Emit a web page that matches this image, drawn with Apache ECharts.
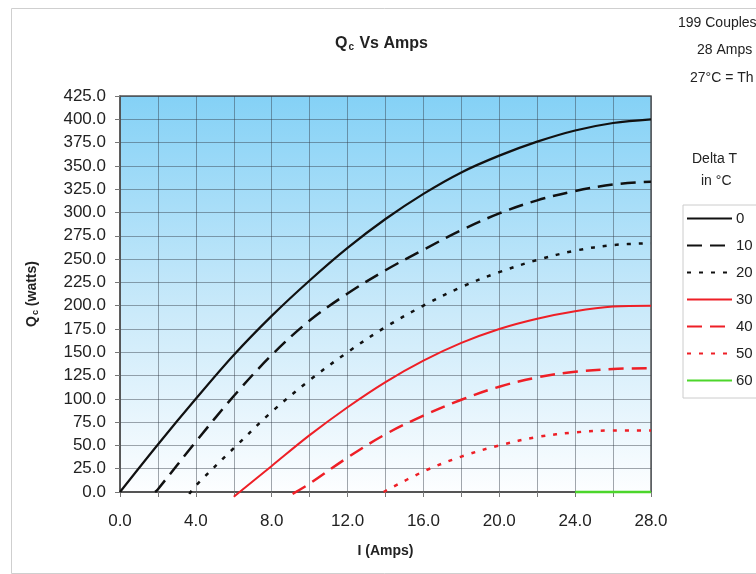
<!DOCTYPE html>
<html>
<head>
<meta charset="utf-8">
<script src="https://cdn.jsdelivr.net/npm/echarts@6/dist/echarts.min.js"></script>
<style>
html,body{margin:0;padding:0;background:#fff;}
#c{width:756px;height:574px;}
</style>
</head>
<body>
<div id="c"></div>
<script>
// ---- data ----
const deltaT = ['0', '10', '20', '30', '40', '50', '60'];
const amps = [0, 2, 4, 6, 8, 10, 12, 14, 16, 18, 20, 22, 24, 26, 28];
// where the curves that do not start at a grid amp cross zero
const startAmp = [null, 1.85, 3.65, 6.0, 9.1, 13.9, null];
const startQ   = [null, 0, -2, -5, -2, 0, null];
const qc0  = [0, 51, 100, 147, 189, 227, 262, 293, 320, 343, 361, 376, 388, 396, 400];
const qc10 = [null, 3, 54, 103, 147, 184, 213, 238, 260, 281, 299, 313, 323, 330, 333];
const qc20 = [null, null, 7, 47, 86, 120, 150, 177, 200, 220, 236, 249, 259, 265, 267];
const qc30 = [null, null, null, null, 28, 61, 91, 118, 141, 160, 175, 186, 194, 199, 200];
const qc40 = [null, null, null, null, null, 9, 37, 62, 82, 99, 113, 123, 129, 132, 133];
const qc50 = [null, null, null, null, null, null, null, null, 22, 38, 50, 59, 64, 66, 66];
const qc60 = [null, null, null, null, null, null, null, null, null, null, null, null, 0, 0, 0];
const yTicks = [0, 425, 25];
const xTicks = [0, 28, 4];

const allQ = [qc0, qc10, qc20, qc30, qc40, qc50, qc60];
const colors = ['#111111', '#111111', '#111111', '#ee1f26', '#ee1f26', '#ee1f26', '#4cd62b'];
const dashes = ['solid', [15, 8], [4, 8], 'solid', [15, 8], [4, 8], 'solid'];
const widths = [2.2, 2.5, 2.5, 2, 2.5, 2.5, 2.5];

function buildPts(i) {
  const pts = [];
  if (startAmp[i] !== null) pts.push([startAmp[i], startQ[i]]);
  amps.forEach((a, j) => {
    const v = allQ[i][j];
    if (v === null) return;
    if (startAmp[i] !== null && a <= startAmp[i]) return;
    pts.push([a, v]);
  });
  return pts;
}

const series = deltaT.map((name, i) => ({
  name: name,
  type: 'line',
  data: buildPts(i),
  symbol: 'none',
  smooth: 0.35,
  clip: false,
  lineStyle: { color: colors[i], width: widths[i], type: dashes[i] },
  itemStyle: { color: colors[i] },
  z: 3 + (6 - i)
}));

const FONT = 'Liberation Sans, Arial, sans-serif';
const chart = echarts.init(document.getElementById('c'), null, { renderer: 'canvas' });
chart.setOption({
  animation: false,
  backgroundColor: '#ffffff',
  grid: {
    left: 120, top: 96, width: 531, height: 396,
    show: true,
    borderColor: '#555555', borderWidth: 1.5,
    backgroundColor: {
      type: 'linear', x: 0, y: 0, x2: 0, y2: 1,
      colorStops: [
        { offset: 0, color: '#84d1f6' },
        { offset: 0.55, color: '#cbeafa' },
        { offset: 1, color: '#fdfeff' }
      ]
    }
  },
  xAxis: {
    type: 'value',
    min: xTicks[0], max: xTicks[1], interval: xTicks[2],
    name: 'I (Amps)',
    nameLocation: 'middle',
    nameGap: 52,
    nameTextStyle: { fontFamily: FONT, fontSize: 14, fontWeight: 'bold', color: '#222' },
    axisLine: { show: true, lineStyle: { color: '#555', width: 2 } },
    axisTick: { show: true, inside: false, length: 5, lineStyle: { color: '#777' } },
    minorTick: { show: true, splitNumber: 2, length: 5, lineStyle: { color: '#777' } },
    splitLine: { show: true, lineStyle: { color: 'rgba(50,60,70,0.45)', width: 1 } },
    minorSplitLine: { show: true, lineStyle: { color: 'rgba(50,60,70,0.45)', width: 1 } },
    axisLabel: {
      fontFamily: FONT, fontSize: 17, color: '#222', margin: 21,
      formatter: v => v.toFixed(1)
    }
  },
  yAxis: {
    type: 'value',
    min: yTicks[0], max: yTicks[1], interval: yTicks[2],
    name: '{q|Q}{s|c}{q| (watts)}',
    nameLocation: 'middle',
    nameGap: 80,
    nameTextStyle: {
      rich: {
        q: { fontFamily: FONT, fontSize: 14, fontWeight: 'bold', color: '#222' },
        s: { fontFamily: FONT, fontSize: 9, fontWeight: 'bold', color: '#222', verticalAlign: 'bottom', padding: [6, 0, 0, 1] }
      }
    },
    axisLine: { show: true, lineStyle: { color: '#555', width: 1.5 } },
    axisTick: { show: true, inside: false, length: 5, lineStyle: { color: '#777' } },
    splitLine: { show: true, lineStyle: { color: 'rgba(50,60,70,0.45)', width: 1 } },
    axisLabel: {
      fontFamily: FONT, fontSize: 17, color: '#222', margin: 14,
      formatter: v => v.toFixed(1)
    }
  },
  legend: {
    orient: 'vertical',
    left: 683, top: 205,
    padding: [6, 40, 10, 3],
    itemWidth: 45, itemHeight: 14, itemGap: 12,
    borderColor: '#cccccc', borderWidth: 1,
    itemStyle: { opacity: 0 },
    textStyle: { fontFamily: FONT, fontSize: 15, color: '#222', padding: [0, 0, 0, -1] },
    data: deltaT
  },
  graphic: [
    { type: 'rect', shape: { x: 11.5, y: 8.5, width: 800, height: 565 },
      style: { fill: 'none', stroke: '#cfcfcf', lineWidth: 1 }, silent: true, z: -10 },
    { type: 'text', left: 335, top: 36,
      style: {
        text: '{q|Q}{s|c}{q| Vs Amps}',
        rich: {
          q: { fontFamily: FONT, fontSize: 16, fontWeight: 'bold', fill: '#222' },
          s: { fontFamily: FONT, fontSize: 10, fontWeight: 'bold', fill: '#222', padding: [6, 1, 0, 1] }
        }
      } },
    { type: 'text', left: 678, top: 16, style: { text: '199 Couples', fontFamily: FONT, fontSize: 14, fill: '#222' } },
    { type: 'text', left: 697, top: 43, style: { text: '28 Amps', fontFamily: FONT, fontSize: 14, fill: '#222' } },
    { type: 'text', left: 690, top: 71, style: { text: '27°C = Th', fontFamily: FONT, fontSize: 14, fill: '#222' } },
    { type: 'text', left: 692, top: 152, style: { text: 'Delta T', fontFamily: FONT, fontSize: 14, fill: '#222' } },
    { type: 'text', left: 701, top: 174, style: { text: 'in °C', fontFamily: FONT, fontSize: 14, fill: '#222' } }
  ],
  series: series
});
</script>
</body>
</html>
